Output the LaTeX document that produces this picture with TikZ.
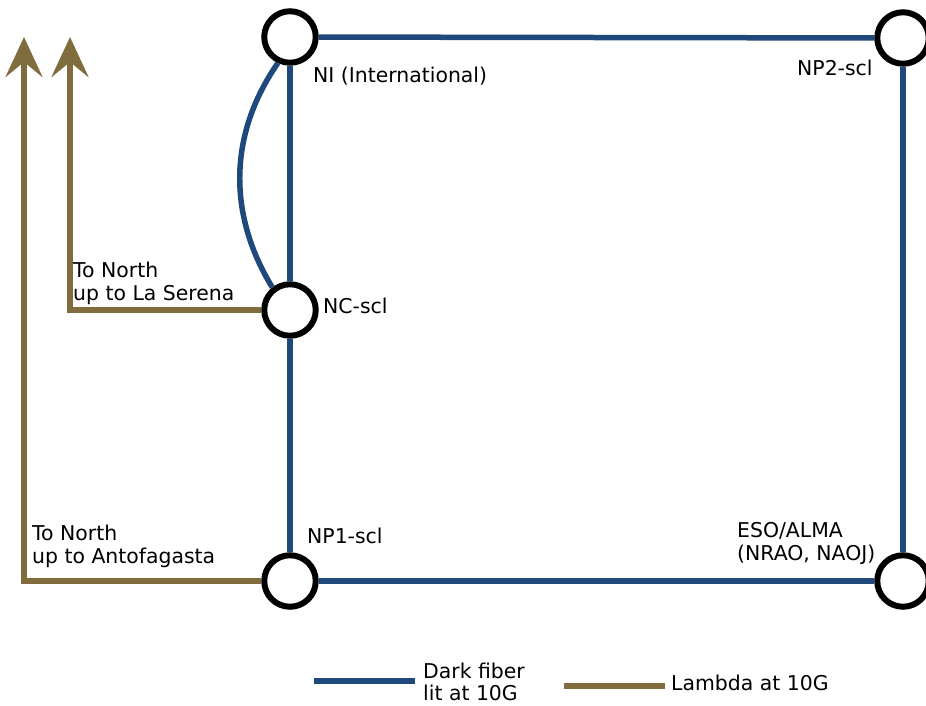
\documentclass[tikz,border=0pt]{standalone}
\usepackage{fontspec}
\setmainfont{DejaVu Sans}
\usetikzlibrary{arrows.meta}
\definecolor{fiber}{RGB}{31,73,125}
\definecolor{lambda}{RGB}{128,108,61}
\tikzset{
  site/.style={circle,draw=black,fill=white,line width=6pt,minimum size=51.5pt,inner sep=0pt},
  fiberline/.style={draw=fiber,line width=5.5pt},
  lambdaline/.style={draw=lambda,line width=5.5pt},
  lambdaarrow/.style={lambdaline,-{Stealth[length=40pt,width=37pt,inset=15pt]}},
  lbl/.style={anchor=base west,inner sep=0pt,font=\fontsize{20.4}{23}\selectfont,text=black}
}
\begin{document}
\begin{tikzpicture}[x=1pt,y=-1pt]
\useasboundingbox (0,0) rectangle (926,705);
% sites
\node[site] (NI)  at (290,37)  {};
\node[site] (NP2) at (903,38)  {};
\node[site] (NC)  at (290,310) {};
\node[site] (NP1) at (290,581) {};
\node[site] (ESO) at (903,581) {};
% dark fiber
\draw[fiberline] (NI) -- (NP2);
\draw[fiberline] (NP2) -- (ESO);
\draw[fiberline] (NP1) -- (ESO);
\draw[fiberline] (NI) -- (NC);
\draw[fiberline] (NC) -- (NP1);
\draw[fiberline] (NI.-115) .. controls (228,135) and (228,215) .. (NC.128);
% lambdas
\coordinate (tipA) at (24,37);
\coordinate (tipB) at (70,37);
\coordinate (cornA) at (24,581);
\coordinate (cornB) at (70,310);
\draw[lambdaarrow] (NP1.west) -- (cornA) -- (tipA);
\draw[lambdaarrow] (NC.west) -- (cornB) -- (tipB);
% labels
\node[lbl] (lNI) at (313,82) {NI (International)};
\node[lbl] (lNP2) at (797,75) {NP2-scl};
\node[lbl] (lNC) at (323,313) {NC-scl};
\node[lbl] (lNP1) at (307,543) {NP1-scl};
\node[lbl] (lESOa) at (737,537) {ESO/ALMA};
\node[lbl] (lESOb) at (737,560) {(NRAO, NAOJ)};
\node[lbl] (lLSa) at (73,277) {To North};
\node[lbl] (lLSb) at (73,300) {up to La Serena};
\node[lbl] (lANa) at (32,540) {To North};
\node[lbl] (lANb) at (32,563) {up to Antofagasta};
% legend
\coordinate (legF1) at (314,681);
\coordinate (legF2) at (415,681);
\coordinate (legL1) at (564,686);
\coordinate (legL2) at (665,686);
\draw[fiberline] (legF1) -- (legF2);
\draw[lambdaline] (legL1) -- (legL2);
\node[lbl] (lF1) at (423,678) {Dark fiber};
\node[lbl] (lF2) at (423,700) {lit at 10G};
\node[lbl] (lL) at (671,690) {Lambda at 10G};
\end{tikzpicture}
\end{document}
